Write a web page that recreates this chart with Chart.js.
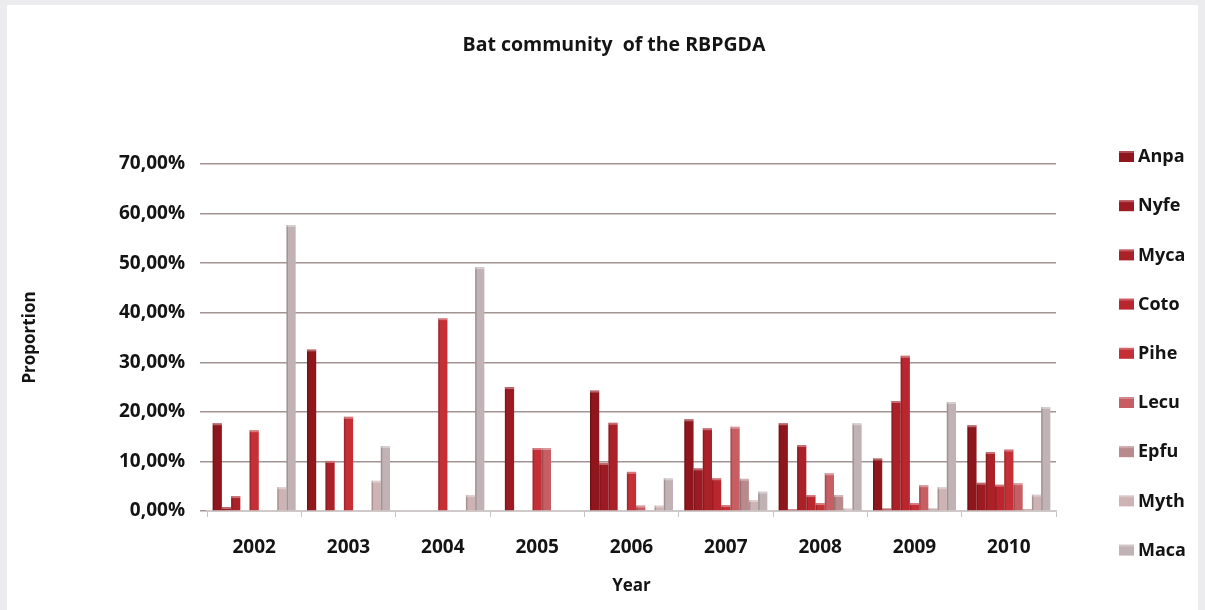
<!DOCTYPE html>
<html>
<head>
<meta charset="utf-8">
<title>Bat community of the RBPGDA</title>
<script src="https://cdn.jsdelivr.net/npm/chart.js@4.4.1/dist/chart.umd.min.js"></script>
<style>
  html, body { margin: 0; padding: 0; background: #ececee; }
  #wrap { position: relative; width: 1205px; height: 610px; }
</style>
</head>
<body>
<div id="wrap"><canvas id="bats" width="1205" height="610"></canvas></div>
<script>
// years sampled and the share of each species per year (in %)
const years = ['2002', '2003', '2004', '2005', '2006', '2007', '2008', '2009', '2010'];

const anpa = [17.7, 32.6, 0, 0, 24.3, 18.5, 17.7, 10.6, 17.3];
const nyfe = [0.8, 0, 0, 25.0, 9.7, 8.6, 0.3, 0.5, 5.7];
const myca = [3.0, 10.1, 0, 0, 17.8, 16.7, 13.3, 22.2, 11.9];
const coto = [0, 0, 0, 0, 0, 6.6, 3.2, 31.3, 5.3];
const pihe = [16.3, 19.0, 38.9, 12.7, 7.9, 1.2, 1.6, 1.6, 12.4];
const lecu = [0, 0, 0, 12.7, 1.1, 17.0, 7.6, 5.2, 5.6];
const epfu = [0, 0, 0, 0, 0, 6.5, 3.2, 0.5, 0.4];
const myth = [4.8, 6.1, 3.2, 0, 1.1, 2.2, 0.5, 4.8, 3.3];
const maca = [57.7, 13.1, 49.2, 0, 6.6, 3.9, 17.7, 22.0, 21.0];

const species = ['Anpa', 'Nyfe', 'Myca', 'Coto', 'Pihe', 'Lecu', 'Epfu', 'Myth', 'Maca'];
const series = [anpa, nyfe, myca, coto, pihe, lecu, epfu, myth, maca];
const yTicks = [0, 10, 20, 30, 40, 50, 60, 70];

const colors = ['#8e161c', '#9c1b22', '#ab2128', '#b9262d', '#c53036', '#c65e63', '#b88a8c', '#cdb3b4', '#c1b3b5'];

const TITLE = 'Bat community  of the RBPGDA';
const FONT = '"Open Sans", sans-serif';
const INK = '#141414';

// grey page frame behind the white chart panel
const panel = {
    id: 'panel',
    beforeDraw(chart) {
        const c = chart.ctx;
        c.save();
        c.fillStyle = '#ececee';
        c.fillRect(0, 0, chart.width, chart.height);
        c.fillStyle = '#ffffff';
        c.fillRect(7, 5, chart.width - 14, chart.height - 5);
        c.restore();
    }
};

// light top cap and dark left edge on every bar, for a bit of relief
const shading = {
    id: 'shading',
    afterDatasetsDraw(chart) {
        const c = chart.ctx;
        c.save();
        chart.data.datasets.forEach((ds, i) => {
            chart.getDatasetMeta(i).data.forEach(bar => {
                const h = bar.base - bar.y;
                if (h < 1) return;
                const left = bar.x - bar.width / 2;
                c.fillStyle = 'rgba(0,0,0,0.18)';
                c.fillRect(left, bar.y, 1.5, h);
                c.fillStyle = 'rgba(255,255,255,0.35)';
                c.fillRect(left, bar.y, bar.width, Math.min(2, h));
            });
        });
        c.restore();
    }
};

// page title plus the legend stacked down the right side
const headings = {
    id: 'headings',
    afterDraw(chart) {
        const c = chart.ctx;
        c.save();
        c.fillStyle = INK;
        c.font = 'bold 19.5px ' + FONT;
        c.textAlign = 'center';
        c.textBaseline = 'middle';
        c.fillText(TITLE, 614, 45);

        c.font = 'bold 18px ' + FONT;
        c.textAlign = 'left';
        chart.data.datasets.forEach((ds, i) => {
            const y = 157 + i * 49.2;
            c.fillStyle = ds.backgroundColor;
            c.fillRect(1119, y - 6, 15, 11);
            c.fillStyle = 'rgba(255,255,255,0.25)';
            c.fillRect(1119, y - 6, 15, 2);
            c.fillStyle = INK;
            c.fillText(ds.label, 1138, y);
        });
        c.restore();
    }
};

new Chart(document.getElementById('bats'), {
    type: 'bar',
    data: {
        labels: years,
        datasets: species.map((name, i) => ({
            label: name,
            data: series[i],
            backgroundColor: colors[i],
            borderWidth: 0,
            barPercentage: 1,
            categoryPercentage: 0.88
        }))
    },
    options: {
        responsive: false,
        animation: false,
        layout: { padding: { left: 0, right: 149, top: 164, bottom: 0 } },
        plugins: {
            legend: { display: false },
            tooltip: { enabled: false },
            title: { display: false }
        },
        scales: {
            x: {
                grid: { drawOnChartArea: false, drawTicks: true, tickLength: 6, color: '#c9c3c3' },
                border: { color: '#cfc9c9', width: 1.5 },
                ticks: { color: INK, font: { family: FONT, size: 19, weight: 'bold' }, padding: 19 },
                title: {
                    display: true,
                    text: 'Year',
                    color: INK,
                    font: { family: FONT, size: 17, weight: 'bold' },
                    padding: { top: 0, bottom: 14 }
                },
                afterFit(scale) { scale.height = 99; }
            },
            y: {
                min: 0,
                max: 70,
                afterBuildTicks(scale) { scale.ticks = yTicks.map(v => ({ value: v })); },
                grid: { color: '#a39494', lineWidth: 1.5, tickLength: 7 },
                border: { display: false },
                ticks: {
                    color: INK,
                    font: { family: FONT, size: 19, weight: 'bold' },
                    padding: 15,
                    callback: v => v.toFixed(2).replace('.', ',') + '%'
                },
                title: {
                    display: true,
                    text: 'Proportion',
                    color: INK,
                    font: { family: FONT, size: 17, weight: 'bold' },
                    padding: { top: 20, bottom: 0 }
                },
                afterFit(scale) { scale.width = 207; }
            }
        }
    },
    plugins: [panel, shading, headings]
});
</script>
</body>
</html>
